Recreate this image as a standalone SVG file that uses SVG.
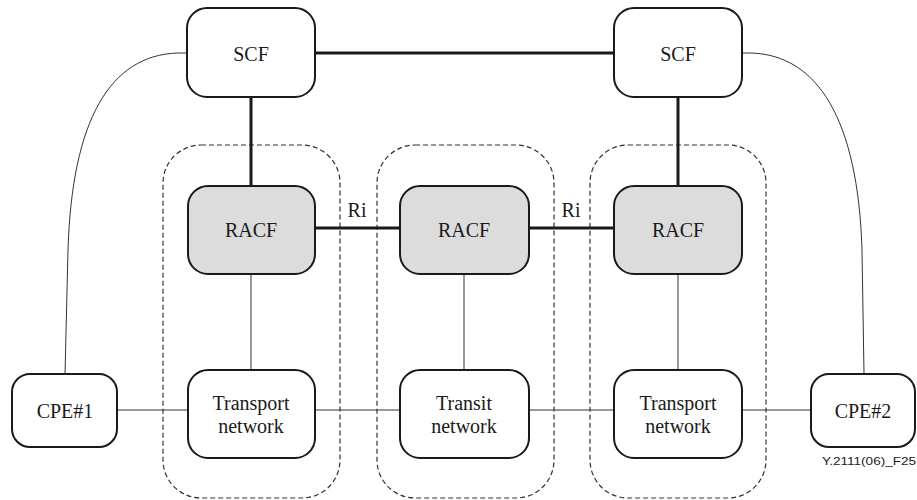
<svg xmlns="http://www.w3.org/2000/svg" width="917" height="500" viewBox="0 0 917 500">
  <style>
    .box { fill: #ffffff; stroke: #1a1a1a; stroke-width: 2; }
    .racf { fill: #dcdcdc; stroke: #1a1a1a; stroke-width: 2; }
    .domain { fill: none; stroke: #333333; stroke-width: 1.2; stroke-dasharray: 5 3; }
    .thick { fill: none; stroke: #1a1a1a; stroke-width: 3; }
    .thin { fill: none; stroke: #333333; stroke-width: 1; }
    .lbl { font-family: "Liberation Serif", "Times New Roman", serif; font-size: 20px; fill: #1a1a1a; text-anchor: middle; }
    .tag { font-family: "Liberation Sans", Arial, sans-serif; font-size: 11px; fill: #1a1a1a; }
  </style>

  <!-- dashed network domains -->
  <g id="domains">
    <rect class="domain" x="163" y="145" width="177" height="353" rx="38" ry="38"/>
    <rect class="domain" x="377" y="145" width="177" height="353" rx="38" ry="38"/>
    <rect class="domain" x="590" y="145" width="176" height="353" rx="38" ry="38"/>
  </g>

  <!-- connectors -->
  <g id="connectors">
    <line class="thick" x1="315" y1="53" x2="614" y2="53"/>
    <line class="thick" x1="251" y1="97" x2="251" y2="186"/>
    <line class="thick" x1="678" y1="97" x2="678" y2="186"/>
    <line class="thick" x1="315" y1="228" x2="400" y2="228"/>
    <line class="thick" x1="529" y1="228" x2="614" y2="228"/>
    <line class="thin" x1="251" y1="274" x2="251" y2="370"/>
    <line class="thin" x1="464" y1="274" x2="464" y2="370"/>
    <line class="thin" x1="678" y1="274" x2="678" y2="370"/>
    <line class="thin" x1="117" y1="410" x2="188" y2="410"/>
    <line class="thin" x1="315" y1="410" x2="400" y2="410"/>
    <line class="thin" x1="529" y1="410" x2="614" y2="410"/>
    <line class="thin" x1="742" y1="410" x2="811" y2="410"/>
    <path class="thin" d="M187,53 L178,53 C110,55 72,120 68,250 L65,374"/>
    <path class="thin" d="M742,53 L751,53 C818,55 858,120 862,250 L864,374"/>
    <text class="lbl" x="357" y="217">Ri</text>
    <text class="lbl" x="571" y="217">Ri</text>
  </g>

  <g id="scf1">
    <rect class="box" x="187" y="8" width="128" height="89" rx="20" ry="20"/>
    <text class="lbl" x="251" y="61">SCF</text>
  </g>
  <g id="scf2">
    <rect class="box" x="614" y="8" width="128" height="89" rx="20" ry="20"/>
    <text class="lbl" x="678" y="61">SCF</text>
  </g>

  <g id="racf1">
    <rect class="racf" x="188" y="186" width="127" height="88" rx="20" ry="20"/>
    <text class="lbl" x="251" y="237">RACF</text>
  </g>
  <g id="racf2">
    <rect class="racf" x="400" y="186" width="129" height="88" rx="20" ry="20"/>
    <text class="lbl" x="464" y="237">RACF</text>
  </g>
  <g id="racf3">
    <rect class="racf" x="614" y="186" width="128" height="88" rx="20" ry="20"/>
    <text class="lbl" x="678" y="237">RACF</text>
  </g>

  <g id="cpe1">
    <rect class="box" x="12" y="374" width="105" height="73" rx="18" ry="18"/>
    <text class="lbl" x="65" y="418">CPE#1</text>
  </g>
  <g id="transport1">
    <rect class="box" x="188" y="370" width="127" height="88" rx="20" ry="20"/>
    <text class="lbl" x="251" y="410">Transport</text>
    <text class="lbl" x="251" y="433">network</text>
  </g>
  <g id="transit">
    <rect class="box" x="400" y="370" width="129" height="88" rx="20" ry="20"/>
    <text class="lbl" x="464" y="410">Transit</text>
    <text class="lbl" x="464" y="433">network</text>
  </g>
  <g id="transport2">
    <rect class="box" x="614" y="370" width="128" height="88" rx="20" ry="20"/>
    <text class="lbl" x="678" y="410">Transport</text>
    <text class="lbl" x="678" y="433">network</text>
  </g>
  <g id="cpe2">
    <rect class="box" x="811" y="374" width="104" height="73" rx="18" ry="18"/>
    <text class="lbl" x="863" y="418">CPE#2</text>
  </g>

  <text class="tag" x="822" y="465" textLength="94" lengthAdjust="spacingAndGlyphs">Y.2111(06)_F25</text>
</svg>
